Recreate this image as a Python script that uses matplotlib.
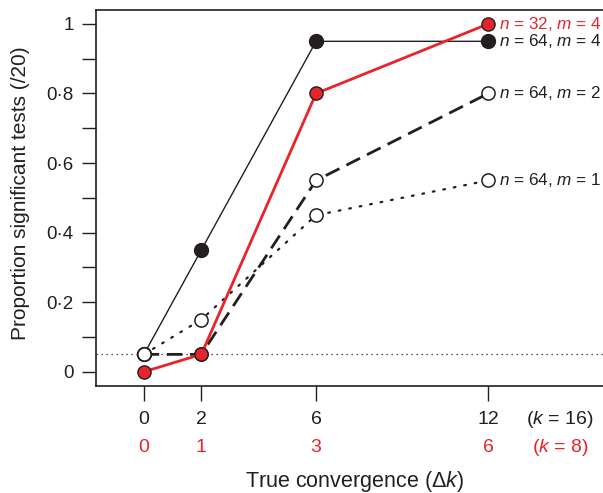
"""
Proportion of significant tests against true convergence
"""

import matplotlib
matplotlib.use('Agg')
import matplotlib.pyplot as plt
import matplotlib.transforms as mtransforms
from matplotlib.ticker import MultipleLocator, FuncFormatter

plt.rcParams['font.family'] = ['Liberation Sans', 'DejaVu Sans']
plt.rcParams['mathtext.fontset'] = 'custom'
plt.rcParams['mathtext.rm'] = 'Liberation Sans'
plt.rcParams['mathtext.it'] = 'Liberation Sans:italic'

# data
dk_k16 = [0, 2, 6, 12]
dk_k8 = [0, 1, 3, 6]
n64_m4 = [0.05, 0.35, 0.95, 0.95]
n32_m4 = [0.0, 0.05, 0.80, 1.00]
n64_m2 = [0.05, 0.05, 0.55, 0.80]
n64_m1 = [0.05, 0.15, 0.45, 0.55]
alpha_level = 0.05
row_labels = ['($k$ = 16)', '($k$ = 8)']
series_labels = ['$n$ = 64, $m$ = 4', '$n$ = 32, $m$ = 4',
                 '$n$ = 64, $m$ = 2', '$n$ = 64, $m$ = 1']

RED = '#e8242b'
INK = '#231f20'

fig = plt.figure(figsize=(6.03, 4.93), dpi=100)
ax = fig.add_axes([0.1592, 0.2177, 0.8408, 0.7620])

ax.axhline(alpha_level, color=INK, linestyle=(0, (1, 3)), linewidth=0.9, zorder=1)

# n=64, m=4 : thin solid, filled black
ax.plot(dk_k16, n64_m4, '-', color=INK, linewidth=1.0, marker='o', markersize=10,
        markerfacecolor=INK, markeredgecolor=INK, zorder=2)
# n=64, m=1 : dotted, open
ax.plot(dk_k16, n64_m1, color=INK, linestyle=(0, (0.8, 4)), linewidth=1.6,
        dash_capstyle='round', marker='o', markersize=9.5,
        markerfacecolor='white', markeredgecolor=INK, markeredgewidth=1.1, zorder=3)
# n=64, m=2 : long dashes, open
ax.plot(dk_k16, n64_m2, color=INK, linestyle=(0, (5.5, 2.8)), linewidth=2.0,
        marker='o', markersize=9.5, markerfacecolor='white',
        markeredgecolor=INK, markeredgewidth=1.1, zorder=4)
# n=32, m=4 : red solid
ax.plot(dk_k16, n32_m4, '-', color=RED, linewidth=2.0, marker='o', markersize=9.5,
        markerfacecolor=RED, markeredgecolor=INK, markeredgewidth=1.0, zorder=5)

# end-of-line labels
ends = [n64_m4[-1], n32_m4[-1], n64_m2[-1], n64_m1[-1]]
colors = [INK, RED, INK, INK]
for lab, yv, c in zip(series_labels, ends, colors):
    ax.annotate(lab, (dk_k16[-1], yv), xytext=(8, 0), textcoords='offset points',
                ha='left', va='center', color=c, fontsize=12.3)

ax.set_xlim(-1.67, 16.0)
ax.set_ylim(-0.040, 1.040)

ax.yaxis.set_major_locator(MultipleLocator(0.2))
ax.yaxis.set_minor_locator(MultipleLocator(0.1))
ax.yaxis.set_major_formatter(FuncFormatter(
    lambda v, p: '0' if abs(v) < 1e-9 else ('1' if abs(v - 1) < 1e-9 else f'{v:.1f}'.replace('.', '·'))))
ax.tick_params(axis='y', which='both', direction='out', length=10, width=1.0,
               colors=INK, labelsize=13.5, pad=6)
ax.set_xticks(dk_k16)
ax.set_xticklabels([])
ax.tick_params(axis='x', direction='out', length=10.5, width=1.0, colors=INK)

for s in ['left', 'bottom', 'top']:
    ax.spines[s].set_linewidth(1.2)
    ax.spines[s].set_color(INK)
ax.spines['right'].set_visible(False)

# two rows of x tick labels
trans = mtransforms.blended_transform_factory(ax.transData, fig.transFigure)
y_row1 = 1 - 419 / 493
y_row2 = 1 - 447 / 493
for xv, a, b in zip(dk_k16, dk_k16, dk_k8):
    ax.text(xv, y_row1, str(a), transform=trans, ha='center', va='center',
            fontsize=14, color=INK)
    ax.text(xv, y_row2, str(b), transform=trans, ha='center', va='center',
            fontsize=14, color=RED)
ax.text(14.5, y_row1, row_labels[0], transform=trans, ha='center', va='center',
        fontsize=14, color=INK)
ax.text(14.5, y_row2, row_labels[1], transform=trans, ha='center', va='center',
        fontsize=14, color=RED)

fig.text(355 / 603, 1 - 481 / 493, r'True convergence ($\Delta k$)', ha='center',
         va='center', fontsize=15.5, color=INK)
fig.text(21 / 603, 1 - 193 / 493, 'Proportion significant tests (/20)', rotation=90,
         ha='center', va='center', fontsize=15, color=INK)

fig.savefig('out.png', dpi=100)
